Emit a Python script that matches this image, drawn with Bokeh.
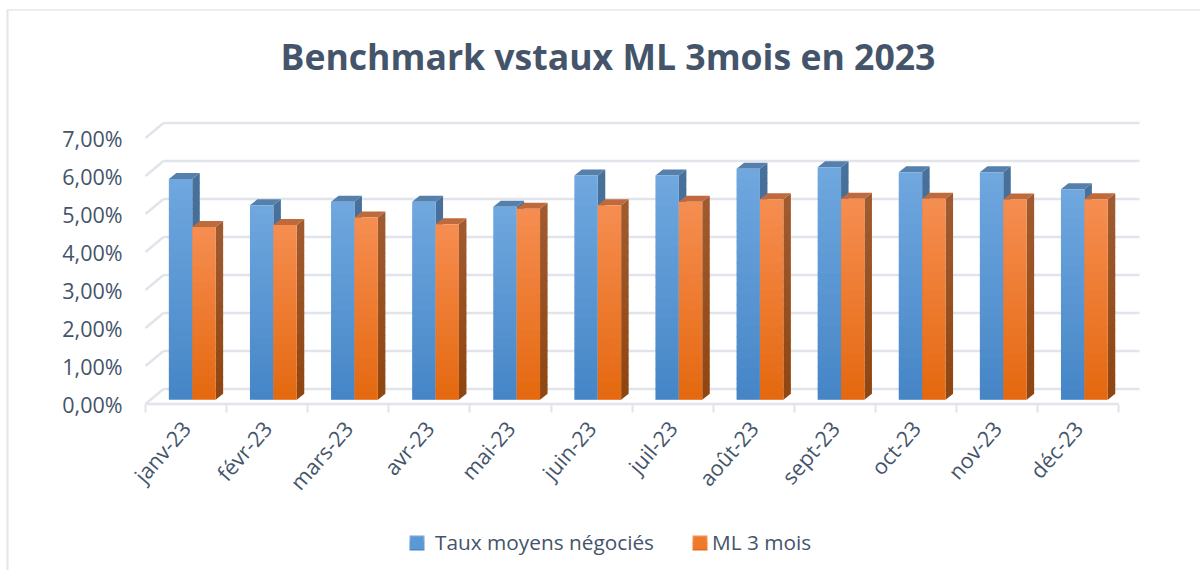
import numpy as np
from bokeh.plotting import figure
from bokeh.models import FixedTicker, Legend, LegendItem, Label, Range1d
from bokeh.embed import file_html
from bokeh.resources import INLINE

title_text = "Benchmark vstaux ML 3mois en 2023"
categories = ["janv-23", "févr-23", "mars-23", "avr-23", "mai-23", "juin-23",
              "juil-23", "août-23", "sept-23", "oct-23", "nov-23", "déc-23"]
taux_moyens = [5.81, 5.12, 5.21, 5.21, 5.08, 5.90, 5.90, 6.08, 6.12, 5.99, 5.99, 5.54]
ml_3_mois = [4.55, 4.60, 4.80, 4.62, 5.03, 5.12, 5.21, 5.28, 5.29, 5.29, 5.27, 5.28]
y_ticks = [0, 1, 2, 3, 4, 5, 6, 7]
y_labels = ["0,00%", "1,00%", "2,00%", "3,00%", "4,00%", "5,00%", "6,00%", "7,00%"]

TXT = "#44546a"
GRID = "#e1e4ea"
FONT = "Open Sans"
PX_X, PX_Y = 81.1, 38.0
W, H = 1200, 570
X0, ZERO = 145, 403.5  # pixel position of the axes origin


def px(x):
    return (x - X0) / PX_X


def py(y):
    return (ZERO - y) / PX_Y


p = figure(width=W, height=H, output_backend="svg", toolbar_location=None,
           x_range=Range1d(px(0), px(W)), y_range=Range1d(py(H), py(0)),
           min_border_left=0, min_border_right=0, min_border_top=0, min_border_bottom=0,
           outline_line_color=None, background_fill_color="white")
p.grid.visible = False

# axes
xa, ya = p.xaxis[0], p.yaxis[0]
centers = [i + 0.5 for i in range(len(categories))]
xa.fixed_location = 0
xa.ticker = FixedTicker(ticks=centers, minor_ticks=list(range(len(categories) + 1)))
xa.major_label_overrides = dict(zip(centers, categories))
xa.major_label_orientation = np.radians(49)
xa.major_tick_line_color = None
xa.axis_line_color = None
xa.minor_tick_line_color = GRID
xa.minor_tick_line_width = 2
xa.minor_tick_out = 8
xa.minor_tick_in = 0
xa.major_label_text_color = TXT
xa.major_label_text_font = FONT
xa.major_label_text_font_size = "21.5px"
xa.major_label_standoff = 12

ya.fixed_location = 0
ya.ticker = FixedTicker(ticks=y_ticks)
ya.major_label_overrides = dict(zip(y_ticks, y_labels))
ya.axis_line_color = None
ya.major_tick_line_color = None
ya.minor_tick_line_color = None
ya.major_label_text_color = TXT
ya.major_label_text_font = FONT
ya.major_label_text_font_size = "21.5px"
ya.major_label_standoff = 17

# outer border of the chart area (top and left only are visible)
p.segment(x0=[px(7)], y0=[py(9.5)], x1=[px(W)], y1=[py(9.5)], line_color="#e4e7ea", line_width=1.5)
p.segment(x0=[px(7)], y0=[py(9)], x1=[px(7)], y1=[py(H)], line_color="#e2e5e9", line_width=2)

# 3D walls
wx, wy = 18 / PX_X, 15 / PX_Y
back_end = px(1139)
n_x = len(categories)
yt = np.array(y_ticks, dtype=float)
p.segment(x0=0, y0=yt, x1=wx, y1=yt + wy, line_color=GRID, line_width=2.5)
p.segment(x0=wx, y0=yt + wy, x1=back_end, y1=yt + wy, line_color=GRID, line_width=2.5)
p.segment(x0=[0], y0=[0], x1=[n_x], y1=[0], line_color=GRID, line_width=2.5)

# bars
bw = 23.4 / PX_X
dx, dy = 7.5 / PX_X, 6.0 / PX_Y
off_x, off_y = 6.2 / PX_X, py(399.3)


def mix(c0, c1, t):
    a = np.array([int(c0[i:i + 2], 16) for i in (1, 3, 5)], dtype=float)
    b = np.array([int(c1[i:i + 2], 16) for i in (1, 3, 5)], dtype=float)
    r = a + (b - a) * t
    return "#%02x%02x%02x" % tuple(int(round(v)) for v in r)


def bars(vals, left_shift, front, side, top, bands=22):
    for i, v in enumerate(vals):
        x0 = i + 0.5 + off_x + left_shift
        x1 = x0 + bw
        b0, b1 = off_y, off_y + v
        edges = np.linspace(b0, b1, bands + 1)
        for k in range(bands):
            t = 1 - (k + 0.5) / bands
            e0, e1 = edges[k], min(edges[k + 1] + 0.02, b1)
            p.patch([x1, x1 + dx, x1 + dx, x1], [e0, e0 + dy, e1 + dy, e1],
                    fill_color=mix(side[0], side[1], t), line_color=None)
        p.patch([x0, x0 + dx, x1 + dx, x1], [b1, b1 + dy, b1 + dy, b1],
                fill_color=top, line_color=None)
        cols = [mix(front[0], front[1], 1 - (k + 0.5) / bands) for k in range(bands)]
        p.quad(left=x0, right=x1, bottom=edges[:-1],
               top=np.minimum(edges[1:] + 0.02, b1), fill_color=cols, line_color=None)


BLUE = ("#70a8df", "#4585c6")
ORANGE = ("#f68e51", "#e4680f")
bars(taux_moyens, -bw, BLUE, ("#47709b", "#3d6690"), "#5680ac")
bars(ml_3_mois, 0, ORANGE, ("#a05b30", "#8f4510"), "#bf6a3c")

# legend: solid swatches from the legend itself, shaded on top
off = px(-200)
r1 = p.quad(left=[off], right=[off], bottom=[0], top=[0], fill_color="#5a98d6", line_color=None)
r2 = p.quad(left=[off], right=[off], bottom=[0], top=[0], fill_color="#ee7a2c", line_color=None)
for rend, label, xpos, standoff, cols in ((r1, "Taux moyens négociés", 409, 11, BLUE),
                                          (r2, "ML 3 mois", 692, 5, ORANGE)):
    leg = Legend(items=[LegendItem(label=label, renderers=[rend])],
                 location=(xpos, H - 556), orientation="horizontal",
                 background_fill_alpha=0, border_line_color=None,
                 glyph_width=15, glyph_height=15, label_standoff=standoff,
                 margin=0, padding=0,
                 label_text_color=TXT, label_text_font=FONT, label_text_font_size="20.8px")
    p.add_layout(leg, "center")
    n = 8
    ys = np.linspace(py(550), py(535), n + 1)
    p.quad(left=px(xpos), right=px(xpos + 15), bottom=ys[:-1], top=ys[1:],
           fill_color=[mix(cols[0], cols[1], 1 - (k + 0.5) / n) for k in range(n)],
           line_color=None, level="overlay")

# title
p.add_layout(Label(x=280, y=H - 55, x_units="screen", y_units="screen", text=title_text,
                   text_color=TXT, text_font=FONT, text_font_style="bold",
                   text_font_size="35.6px", text_baseline="middle", text_align="left"))

open("out.html", "w").write(file_html(p, INLINE))
